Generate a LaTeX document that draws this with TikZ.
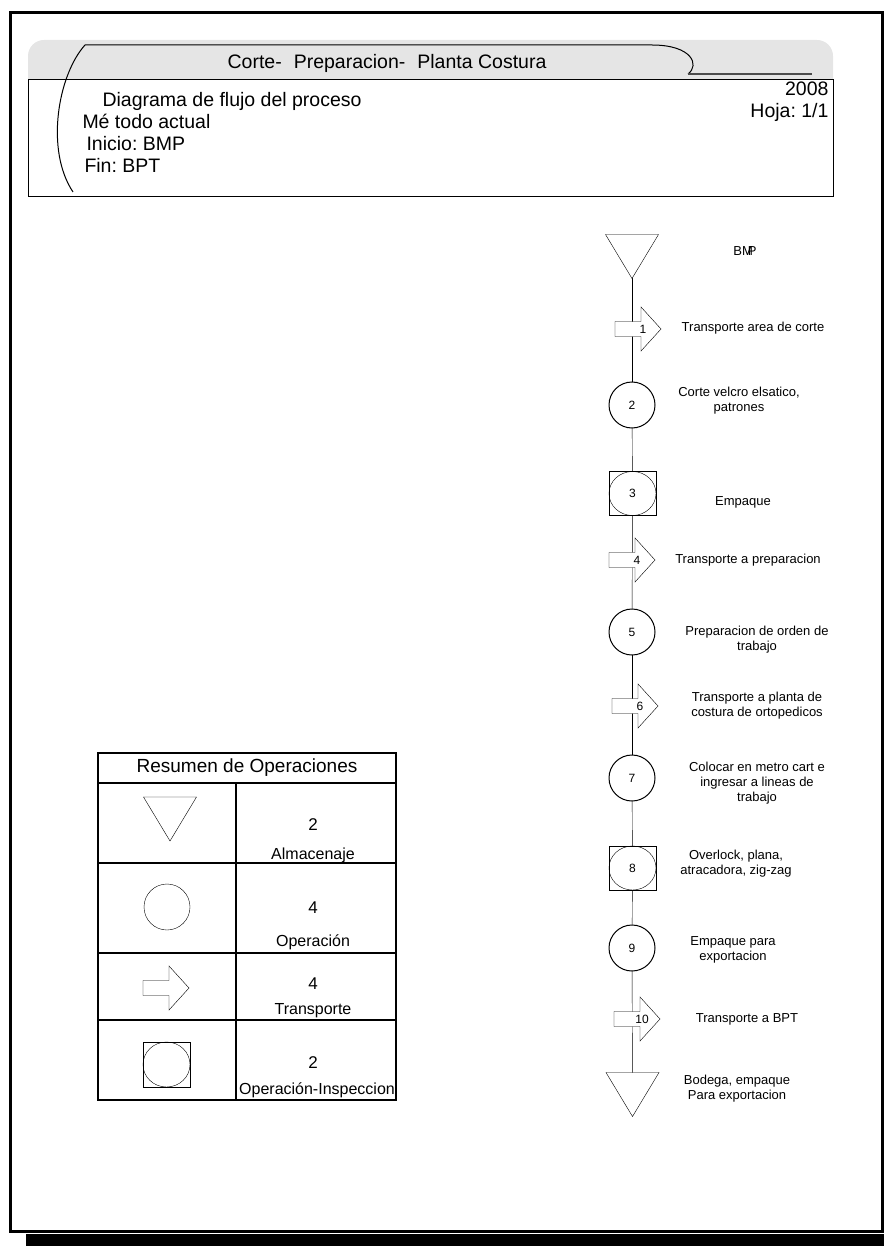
\documentclass[tikz,border=0pt]{standalone}
\usepackage{fontspec}
\setmainfont{Liberation Sans}
\usetikzlibrary{backgrounds}
\frenchspacing
\newcommand\transpshape[1]{%
  \draw[fill=white] ([shift={(-28pt,-7.5pt)}]#1.center) -- ([shift={(-2pt,-7.5pt)}]#1.center)
    -- ([shift={(-2pt,-22pt)}]#1.center) -- ([shift={(18pt,0pt)}]#1.center)
    -- ([shift={(-2pt,22pt)}]#1.center) -- ([shift={(-2pt,7.5pt)}]#1.center)
    -- ([shift={(-28pt,7.5pt)}]#1.center) -- cycle;}
\newcommand\storageshape[1]{%
  \draw[fill=white] ([shift={(-26.5pt,22pt)}]#1.center) -- ([shift={(26.5pt,22pt)}]#1.center)
    -- ([shift={(0pt,-22pt)}]#1.center) -- cycle;}
\newcommand\inspcircle[1]{%
  \draw (#1.center) ellipse [x radius=23.5pt, y radius=22pt];}
\begin{document}
\begin{tikzpicture}[x=1pt,y=-1pt,line width=1pt,
  hdrtxt/.style={font=\fontsize{19.5}{22}\selectfont, inner sep=0},
  lbl/.style={font=\fontsize{13}{15}\selectfont, align=center, inner sep=0},
  num/.style={font=\fontsize{12}{14}\selectfont, inner sep=0},
  optn/.style={circle, draw, fill=white, minimum size=46pt, inner sep=0, num},
  opinsp/.style={rectangle, draw, fill=white, minimum width=47pt, minimum height=44pt, inner sep=0, num},
  transp/.style={rectangle, minimum width=46pt, minimum height=44pt, inner sep=0, num},
  storage/.style={rectangle, minimum width=53pt, minimum height=44pt, inner sep=0},
  cell/.style={draw, line width=1.5pt, inner sep=0},
  tbltxt/.style={font=\fontsize{16}{18}\selectfont, inner sep=0},
  tblnum/.style={font=\fontsize{17}{19}\selectfont, inner sep=0}
]
\useasboundingbox (0,0) rectangle (884,1246);

% page frame and shadow
\fill (26,1233.5) rectangle (884,1246);
\draw[line width=3pt] (10,13) rectangle (882.5,1231);

% header
\fill[gray!20, rounded corners=16pt] (28,100) -- (28,40) -- (833,40) -- (833,100) -- cycle;
\draw[fill=white] (28,80) rectangle (833,197);
\draw (73,192) .. controls (45,150) and (58,75) .. (85,45) -- (652,45)
      .. controls (692,45) and (700,65) .. (688,74);
\draw[line width=1.5pt, gray!60!black] (688,74) -- (812,74);

\node[hdrtxt, anchor=base] (title) at (387,69) {Corte-\hspace{12pt}Preparacion-\hspace{12pt}Planta Costura};
\node[hdrtxt, anchor=base west] (h1) at (102,107) {Diagrama de flujo del proceso};
\node[hdrtxt, anchor=base west] (h2) at (82,129) {Mé todo actual};
\node[hdrtxt, anchor=base west] (h3) at (86,151) {Inicio: BMP};
\node[hdrtxt, anchor=base west] (h4) at (84,173) {Fin: BPT};
\node[hdrtxt, anchor=base east] (yr) at (829,96) {2008};
\node[hdrtxt, anchor=base east] (hoja) at (829,118) {Hoja: 1/1};

% flow chart node positions
\node[storage] (t1) at (632,256.5) {};
\node[transp] (a1) at (643,329) {};
\node[optn] (c2) at (632,405) {2};
\node[opinsp] (s3) at (632.5,493.5) {3};
\node[transp] (a4) at (637,560) {};
\node[optn] (c5) at (632,632) {5};
\node[transp] (a6) at (640,706) {};
\node[optn] (c7) at (632,778) {7};
\node[opinsp] (s8) at (632.5,868) {8};
\node[optn] (c9) at (632,948) {9};
\node[transp] (a10) at (642,1019) {};
\node[storage] (t2) at (632.5,1094.5) {};

% connectors
\begin{pgfonlayer}{background}
\draw (t1.center) -- (c2.center);
\draw (c2.center) -- (s3.center);
\draw (s3.center) -- (c5.center);
\draw (c5.center) -- (c7.center);
\draw (c7.center) -- (s8.center);
\draw (s8.center) -- (c9.center);
\draw (c9.center) -- (t2.center);
\end{pgfonlayer}

% symbol outlines
\storageshape{t1}
\storageshape{t2}
\transpshape{a1}
\transpshape{a4}
\transpshape{a6}
\transpshape{a10}
\inspcircle{s3}
\inspcircle{s8}
\node[num] (a1n) at (a1) {1};
\node[num] (a4n) at (a4) {4};
\node[num] (a6n) at (a6) {6};
\node[num] (a10n) at (a10) {10};

% flow chart labels
\node[lbl] (l0) at (745,251) {BM\kern-5ptP};
\node[lbl] (l1) at (753,328) {Transporte area de corte};
\node[lbl] (l2) at (739,401) {Corte velcro elsatico,\\patrones};
\node[lbl] (l3) at (743,502) {Empaque};
\node[lbl] (l4) at (748,560) {Transporte a preparacion};
\node[lbl] (l5) at (757,640) {Preparacion de orden de\\trabajo};
\node[lbl] (l6) at (757,706) {Transporte a planta de\\costura de ortopedicos};
\node[lbl] (l7) at (757,783) {Colocar en metro cart e\\ingresar a lineas de\\trabajo};
\node[lbl] (l8) at (736,864) {Overlock, plana,\\atracadora, zig-zag};
\node[lbl] (l9) at (733,950) {Empaque para\\exportacion};
\node[lbl] (l10) at (747,1019) {Transporte a BPT};
\node[lbl] (l11) at (737,1089) {Bodega, empaque\\Para exportacion};

% summary table
\node[cell, minimum width=298pt, minimum height=30pt, font=\fontsize{19}{21}\selectfont] (hdr) at (247,768) {Resumen de Operaciones};
\node[cell, minimum width=138pt, minimum height=80pt] (r1a) at (167,823) {};
\node[cell, minimum width=160pt, minimum height=80pt] (r1b) at (316,823) {};
\node[cell, minimum width=138pt, minimum height=90pt] (r2a) at (167,908) {};
\node[cell, minimum width=160pt, minimum height=90pt] (r2b) at (316,908) {};
\node[cell, minimum width=138pt, minimum height=67pt] (r3a) at (167,986.5) {};
\node[cell, minimum width=160pt, minimum height=67pt] (r3b) at (316,986.5) {};
\node[cell, minimum width=138pt, minimum height=80pt] (r4a) at (167,1060) {};
\node[cell, minimum width=160pt, minimum height=80pt] (r4b) at (316,1060) {};

\node[storage] (ts) at (170,819) {};
\node[optn] (tc) at (167,907) {};
\node[transp] (ta) at (171,988) {};
\node[opinsp, minimum height=45pt] (tq) at (166.5,1064.5) {};
\storageshape{ts}
\transpshape{ta}
\draw (tq.center) ellipse [x radius=23.5pt, y radius=22.5pt];

\node[tblnum] (n1) at (313,825) {2};
\node[tbltxt] (w1) at (313,855) {Almacenaje};
\node[tblnum] (n2) at (313,908) {4};
\node[tbltxt] (w2) at (313,942) {Operación};
\node[tblnum] (n3) at (313,984) {4};
\node[tbltxt] (w3) at (313,1011) {Transporte};
\node[tblnum] (n4) at (313,1063) {2};
\node[tbltxt] (w4) at (317,1090) {Operación-Inspeccion};
\end{tikzpicture}
\end{document}
